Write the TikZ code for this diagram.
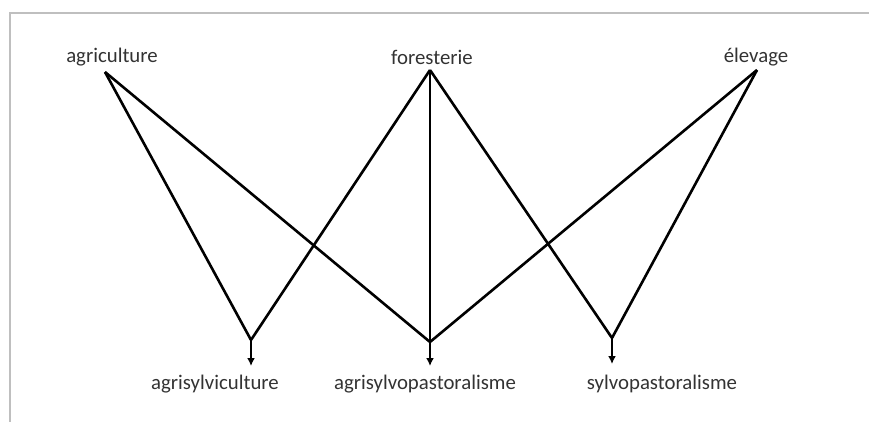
\documentclass[tikz,border=0pt]{standalone}
\usepackage{fontspec}
\setmainfont{Carlito}
\usetikzlibrary{arrows.meta}
\begin{document}
\begin{tikzpicture}[x=1pt,y=-1pt,
  lbl/.style={text=black!80, font=\fontsize{20.8}{24}\selectfont, inner sep=0pt},
  link/.style={line width=2.6pt, black},
  outarrow/.style={line width=2.2pt, black, -{Latex[length=8pt,width=8pt]}},
  frame/.style={line width=1.5pt, black!25}]
\useasboundingbox (0,0) rectangle (869,422);
\draw[frame] (10,422) -- (10,13) -- (869,13);
% apexes and joins
\coordinate (aA) at (105,72);
\coordinate (aF) at (430,70);
\coordinate (aE) at (757,70);
\coordinate (j1) at (251,340);
\coordinate (j2) at (430,342);
\coordinate (j3) at (612,338);
\coordinate (e1) at (251,366);
\coordinate (e2) at (430,366);
\coordinate (e3) at (612,364);
% labels
\node[lbl] (agri) at (112,57) {agriculture};
\node[lbl] (fore) at (432,57) {foresterie};
\node[lbl] (elev) at (756,57) {élevage};
\node[lbl] (asc) at (215,384) {agrisylviculture};
\node[lbl] (asp) at (425,384) {agrisylvopastoralisme};
\node[lbl] (sp) at (662,384) {sylvopastoralisme};
% connectors
\draw[link] (aA) -- (j1);
\draw[link] (aA) -- (j2);
\draw[link] (aF) -- (j1);
\draw[link] (aF) -- (j2);
\draw[link] (aF) -- (j3);
\draw[link] (aE) -- (j2);
\draw[link] (aE) -- (j3);
\draw[outarrow] (j1) -- (e1);
\draw[outarrow] (j2) -- (e2);
\draw[outarrow] (j3) -- (e3);
\end{tikzpicture}
\end{document}
